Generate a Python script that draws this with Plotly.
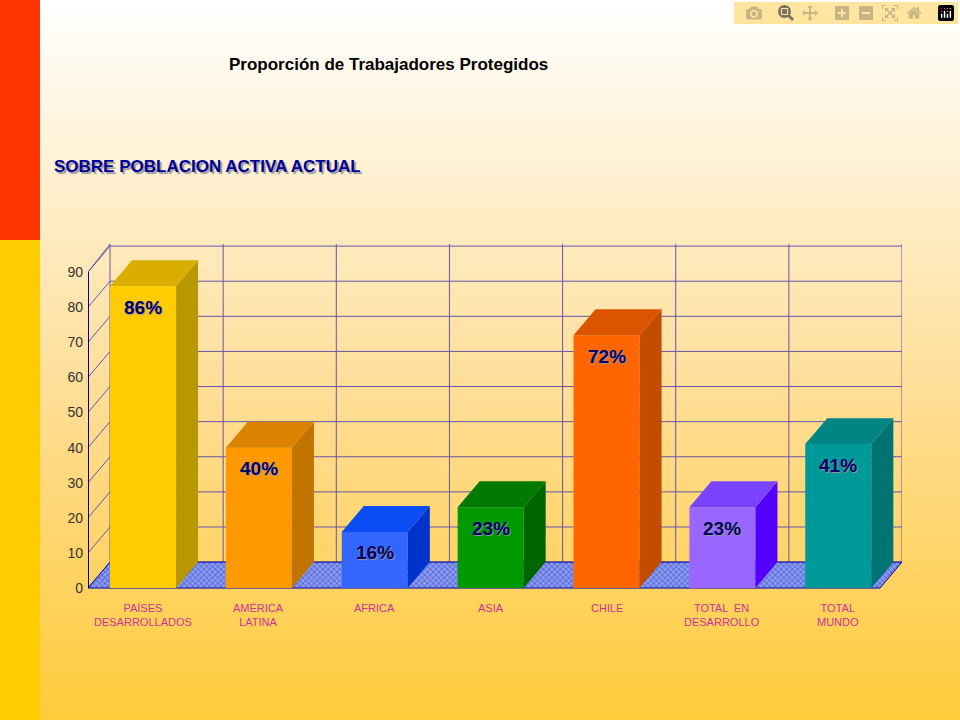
import plotly.graph_objects as go

categories = ["PAÍSES<br>DESARROLLADOS", "AMÉRICA<br>LATINA", "AFRICA", "ASIA", "CHILE",
              "TOTAL  EN<br>DESARROLLO", "TOTAL<br>MUNDO"]
values = [86, 40, 16, 23, 72, 23, 41]
labels = ["86%", "40%", "16%", "23%", "72%", "23%", "41%"]
y_ticks = [0, 10, 20, 30, 40, 50, 60, 70, 80, 90]

front = ["#FFCC00", "#FF9900", "#3366FF", "#009900", "#FF6600", "#9966FF", "#009999"]
topc = ["#D9AE00", "#DB8200", "#0A4DF5", "#007A00", "#DB5500", "#7A44FF", "#008585"]
side = ["#B89800", "#C27400", "#0033CC", "#006600", "#C24C00", "#5500FF", "#007373"]

X0, X1 = -0.475, 6.55
Y0, Y1 = -3.4, 98
DX, DY = 0.19, 7.4
HW = 0.285
L, R, T, B = 88, 58, 244, 120
PH = 720 - T - B

def py(p):
    return (720 - p - B) / PH
def px(p):
    return (p - L) / (960 - L - R)

shapes = []
n = 72
def lerp(a, b, t):
    return tuple(int(a[i] + (b[i] - a[i]) * t) for i in range(3))
for i in range(n):
    t = i / (n - 1)
    if t < 0.55:
        c = lerp((255, 255, 255), (255, 222, 150), t / 0.55)
    else:
        c = lerp((255, 222, 150), (255, 204, 60), (t - 0.55) / 0.45)
    shapes.append(dict(type="rect", xref="paper", yref="paper", layer="below",
                       x0=px(0), x1=px(960), y0=py(720 * (i + 1) / n + 1), y1=py(720 * i / n),
                       fillcolor="rgb(%d,%d,%d)" % c, line_width=0))
shapes.append(dict(type="rect", xref="paper", yref="paper", layer="below", x0=px(0), x1=px(40),
                   y0=py(240), y1=py(0), fillcolor="#FF3300", line_width=0))
shapes.append(dict(type="rect", xref="paper", yref="paper", layer="below", x0=px(0), x1=px(40),
                   y0=py(720), y1=py(240), fillcolor="#FFCC00", line_width=0))
gc = "#6655AA"
for v in y_ticks:
    shapes.append(dict(type="line", layer="below", x0=X0 + DX, x1=X1, y0=v + DY, y1=v + DY,
                       line=dict(color=gc, width=1)))
for i in range(8):
    x = X0 + DX + i * (X1 - X0 - DX) / 7
    shapes.append(dict(type="line", layer="below", x0=x, x1=x, y0=DY, y1=98,
                       line=dict(color=gc, width=1)))
shapes.append(dict(type="line", x0=X0, x1=X0, y0=0, y1=90, line=dict(color="#0000AA", width=2)))
shapes.append(dict(type="line", layer="below", x0=X0, x1=X0 + DX, y0=90, y1=98, line=dict(color=gc, width=1)))
for v in y_ticks:
    shapes.append(dict(type="line", layer="below", x0=X0, x1=X0 + DX, y0=v, y1=v + DY,
                       line=dict(color=gc, width=1)))
    shapes.append(dict(type="line", x0=X0 - 0.03, x1=X0, y0=v, y1=v, line=dict(color="#0000AA", width=1)))

fig = go.Figure()
fig.add_trace(go.Scatter(x=[X0, X1 - DX, X1, X0 + DX, X0], y=[0, 0, DY, DY, 0], fill="toself",
                         mode="lines", line=dict(color="#0000AA", width=1), fillcolor="#8899EE",
                         fillpattern=dict(shape="x", fgcolor="#2233BB", bgcolor="#8899EE", size=4, solidity=0.4),
                         hoverinfo="skip", showlegend=False))
for i, v in enumerate(values):
    xl, xr = i - HW, i + HW
    for xs, ys, c in [
        ([xl, xr, xr, xl, xl], [0, 0, v, v, 0], front[i]),
        ([xr, xr + DX, xr + DX, xr, xr], [0, DY, v + DY, v, 0], side[i]),
        ([xl, xr, xr + DX, xl + DX, xl], [v, v, v + DY, v + DY, v], topc[i]),
    ]:
        fig.add_trace(go.Scatter(x=xs, y=ys, fill="toself", mode="lines", line=dict(width=0),
                                 fillcolor=c, hoverinfo="skip", showlegend=False))
    fig.add_annotation(x=i, y=v - 6, text="<b>%s</b>" % labels[i], showarrow=False,
                       font=dict(family="Arial, Liberation Sans", size=19, color="#000066",
                                 shadow="1px 1px 1px #999999"))
    fig.add_annotation(x=i, yref="paper", y=py(600), yanchor="top", text=categories[i], showarrow=False,
                       font=dict(family="Arial, Liberation Sans", size=11, color="#CC3399"))

fig.add_annotation(xref="paper", yref="paper", x=px(388), y=py(53), text="<b>Proporción de Trabajadores Protegidos</b>",
                   showarrow=False, font=dict(family="Arial, Liberation Sans", size=17, color="black"))
fig.add_annotation(xref="paper", yref="paper", x=px(52), xanchor="left", y=py(155),
                   text="<b>SOBRE POBLACION ACTIVA ACTUAL</b>", showarrow=False,
                   font=dict(family="Arial, Liberation Sans", size=17, color="#000099",
                             shadow="2px 2px 1px #999999"))

fig.update_layout(width=960, height=720, margin=dict(l=L, r=R, t=T, b=B),
                  paper_bgcolor="#FFCC44", plot_bgcolor="rgba(0,0,0,0)", shapes=shapes,
                  xaxis=dict(range=[X0, X1], visible=False, fixedrange=True),
                  yaxis=dict(range=[Y0, Y1], tickvals=y_ticks, showgrid=False, zeroline=False,
                             tickfont=dict(family="Arial, Liberation Sans", size=14, color="#333333"),
                             ticks="", ticklabelstandoff=4))
fig.write_html("out.html", post_script="document.body.style.margin='0';")
